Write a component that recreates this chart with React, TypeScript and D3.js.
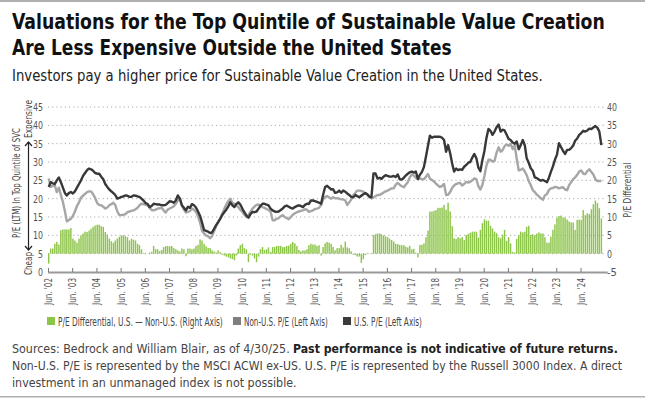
import { useEffect, useRef } from 'react'
import * as d3 from 'd3'

// monthly, Jun 2002 .. Apr 2025
const startMonth = new Date(2002, 5, 1)
const endMonth = new Date(2025, 4, 1)

const usPE = [
  23.2, 24.5, 24.2, 24, 25, 25.8, 24.5, 23, 21.5, 20.9, 21.5, 21.8,
  21.4, 22, 23, 24, 25, 26.2, 27, 27.8, 28.2, 28, 27.6, 27,
  26.8, 26.8, 26, 25.3, 24, 23.2, 22.5, 22, 21.5, 21, 20, 20.2,
  20.5, 20.6, 20.9, 20.8, 20.5, 20.5, 20.9, 20.8, 20.6, 20.5, 20, 19.5,
  18.8, 18.6, 17.7, 18, 18.6, 18.5, 18.4, 18.4, 18.2, 18.2, 18.3, 18.8,
  19.3, 19.2, 18.9, 19.5, 20.9, 20, 18.2, 17.5, 16.8, 17.8, 17.5, 18.5,
  18.2, 17.6, 16.5, 15.3, 13.5, 11.4, 11.2, 11, 10.6, 10.8, 11.8, 12.8,
  13.6, 14.5, 15.5, 16.3, 17, 17.9, 19, 18.2, 17.7, 18.5, 19, 18.4,
  17.3, 16.3, 15.4, 14.8, 15.8, 16.4, 16.3, 16.5, 17.3, 18, 18.6, 18.6,
  18.4, 18.2, 17.3, 16.8, 16.5, 16.4, 16.5, 16.9, 17.3, 17.9, 18.1, 17.8,
  17.5, 17.3, 17.7, 18, 18.2, 18, 17.7, 18.3, 18.6, 18.6, 19.5, 19.5,
  19.3, 19.1, 18.9, 18.6, 21, 23.2, 23.5, 23, 22.5, 22.6, 21.6, 21.7,
  22.2, 21.6, 22.2, 21.9, 21.4, 21, 20.5, 20.4, 21, 20.7, 20.4, 20.8,
  21.2, 21.5, 21.2, 20.5, 20.4, 26.9, 26.9, 25.5, 25.7, 25.4, 26, 26.4,
  26.2, 26, 26, 26.2, 25.9, 26.6, 25.3, 25.2, 25.7, 26.3, 26.8, 27.2,
  27.4, 27.1, 27.4, 25.4, 26.5, 27.3, 28.6, 31.5, 34.5, 37.2, 36.6, 36.9,
  36.9, 36.9, 36.9, 36.6, 36, 32.8, 34.6, 32.4, 29.5, 27.4, 28.2, 27.8,
  28, 27.9, 28.7, 29.2, 29.8, 30, 31.2, 32.2, 31, 28.5, 27.5, 30.5,
  33, 36.5, 39, 38.5, 37.4, 38.3, 39.5, 40.2, 38.3, 38.8, 38.6, 37.5,
  36.3, 36, 35.3, 35, 35.6, 33.5, 34.6, 36, 34.5, 31, 29.8, 28.3,
  27.6, 25.8, 25.6, 25.2, 24.9, 25.1, 24.8, 24.5, 25.8, 27.3, 28.8, 30.6,
  32, 35.1, 34.1, 33, 32.2, 33.3, 33.3, 33.8, 34.5, 35.8, 36.4, 37.4,
  37.9, 38.5, 38.3, 38.6, 39.1, 39, 39.4, 39.8, 39.3, 38.3, 34.6,
]

const nonUsPE = [
  25.5, 23.2, 23.5, 23.6, 21.8, 23, 21, 19.1, 16.5, 13.8, 14.2, 14.5,
  15.3, 16.5, 18, 19, 20.3, 20.8, 21.3, 21.8, 22, 22, 21.2, 20.2,
  18.8, 18.3, 18.2, 17.8, 17.3, 17.6, 18.2, 18.5, 18.9, 18.3, 16.5, 15.5,
  15.5, 15.6, 15.8, 16.3, 16.5, 16.7, 16.8, 17.1, 17.5, 18.2, 18.6, 18.5,
  18.3, 18.2, 17.5, 16.9, 16.8, 17, 17.3, 17.4, 17.5, 16.8, 16.2, 17,
  17.3, 17.6, 17.9, 18.6, 19.5, 20, 18.2, 17, 16.2, 16.4, 16.6, 17.3,
  17, 16.4, 15.2, 13.5, 11.2, 10.5, 10, 9.7, 9.2, 9.8, 11.2, 12.5,
  13.6, 14.6, 15.9, 17.2, 18.4, 19.3, 20, 18.9, 18.6, 18.3, 17.7, 17,
  16.4, 15.6, 15, 15.5, 16.4, 17.3, 17.8, 18.3, 18.4, 18.1, 17.7, 17.5,
  17.2, 16.9, 16.5, 14.1, 14.1, 14.5, 14.7, 15.2, 15.5, 15, 14.7, 14.4,
  15, 15.6, 16, 16.3, 16.5, 16.7, 16.8, 17.1, 17, 16.4, 16.6, 16.8,
  17.2, 17.3, 17.5, 18.2, 19.8, 20.5, 20.7, 20.3, 20, 20.4, 20.1, 20.1,
  20, 19.8, 19.8, 19.5, 18.3, 19, 19.8, 21, 21.6, 22.2, 22.2, 22.1,
  21.9, 21.5, 21, 20.5, 20.1, 20.3, 20.7, 21, 21, 21.3, 21.7, 22,
  22.2, 22.5, 22.8, 22.8, 23.8, 24.3, 23.8, 23.4, 23.1, 23.8, 24.5, 25.8,
  26.6, 26.3, 25.7, 25.3, 25.5, 25.3, 25.3, 26, 26.7, 25.5, 25.1, 24.7,
  24.1, 23.6, 23.2, 23.5, 24, 21, 21.1, 21.8, 23, 23.6, 24, 24.2,
  24.3, 23.6, 24, 24.6, 24.4, 24.6, 25, 25.5, 25.3, 23.4, 22.5, 23.7,
  26.2, 29, 30.6, 30.6, 30.1, 30.3, 32.5, 34, 32.8, 33.2, 34.3, 34.8,
  34.4, 35, 33.5, 34.5, 31, 27.7, 27.9, 28.2, 27.4, 26.4, 24.8, 23.7,
  22.3, 21.8, 21.1, 20.6, 20.1, 19.7, 20.9, 21.3, 22.4, 22.8, 22.9, 23.2,
  23.1, 22.8, 23, 23.1, 22.5, 22.3, 23.7, 24.5, 25.3, 25.8, 26.5, 27.4,
  27.7, 26.8, 26.7, 27.5, 28, 27.3, 26.6, 25.3, 24.8, 24.8, 24.9,
]

const peDiff = [
  -2.7, 1.4, 1.4, 2.7, 3.2, 2.5, 6.4, 6.6, 6.6, 6.6, 6.6, 7,
  4.1, 3.6, 3, 4.1, 5, 5.5, 6, 5.9, 6.3, 6.8, 7.3, 7.7,
  7.9, 7.9, 7.5, 7.3, 5.9, 5.2, 4.1, 3.4, 3, 3.6, 4.1, 4.6,
  5, 5, 4.8, 4.5, 3.6, 4.1, 3.8, 3.6, 2.7, 2.3, 1.2, 0.2,
  0.2, 0, 0.3, 0.5, 2.1, 1.2, 1.2, 0.7, 1, 1.8, 2.1, 2.1,
  2, 2.1, 1.5, 1.2, 0.9, 0.6, 1.4, 1.2, -0.7, 1.4, 1.4, 1.2,
  1.4, 2.1, 2.4, 3.9, 3.6, 2.7, 2, 1.6, 1.5, 0.9, 0.6, 0.3,
  0.9, 0.4, -0.3, -0.5, -0.8, -1, -1.3, -1.5, -1.8, -0.5, 1.4, 2.3,
  2.7, 1.5, 1.2, -2.3, -0.3, -0.5, -1.3, -2.3, -0.8, 1.2, 1.8, 1,
  1.2, 1.7, 0.5, 1.8, 1.8, 2.1, 2.1, 2.1, 1.8, 1.8, 2.1, 2.2,
  2.7, 3.2, 2.8, 2.1, 1, 0.6, 0.9, 0.9, 1.2, 2.3, 2.7, 2.5,
  2.5, 2.1, 2.3, -0.5, 1.8, 2.8, 3.2, 3, 2.7, 1.8, 0.9, 1.5,
  1.5, 2.4, 1.7, 3.3, 1.7, 1.5, 0.6, -0.3, -0.4, -0.8, -0.8, -2.5,
  -1.5, -0.4, 0.1, 0.1, 0.1, 5.1, 5.3, 5.5, 5.5, 5.3, 5, 4.7,
  4.5, 4.1, 3.7, 3.3, 2.7, 2.6, 2.4, 2.3, 2.3, 1.9, 1.7, 2.1,
  1.2, 1.3, 0.3, -1, 2.4, 2.4, 2.8, 4.5, 6.3, 11.5, 11.5, 11.7,
  11.9, 12.5, 12.5, 12.6, 13.3, 12, 13.9, 11.5, 7.5, 4.2, 4, 4.5,
  4.2, 4.5, 3.7, 5.1, 5.4, 5.7, 6, 6, 6, 4.4, 6.5, 8.3,
  9.4, 9, 9, 7.6, 6.9, 6, 5.6, 4.5, 4.2, 5.2, 6.5, 3.5,
  4.5, 2.8, 0.5, 0.3, 4, 5, 6, 5.8, 6, 7.3, 7.6, 5.1,
  5.3, 5, 5.5, 5.8, 5.5, 5.5, 4.5, 3, 3, 4.6, 6.5, 8,
  9.8, 10.3, 10.4, 9.9, 9.8, 9.3, 8.8, 8.5, 8.5, 6.5, 9.2, 9.3,
  9.2, 11.9, 10.5, 11, 10.8, 12.1, 13.5, 14.5, 13.8, 12.4, 9.6,
]

const leftTicks = [0, 5, 10, 15, 20, 25, 30, 35, 40, 45]
const rightTicks = [-5, 0, 5, 10, 15, 20, 25, 30, 35, 40]
const tickYears = d3.range(2002, 2025)

const titleLines = [
  'Valuations for the Top Quintile of Sustainable Value Creation',
  'Are Less Expensive Outside the United States',
]
const subtitle = 'Investors pay a higher price for Sustainable Value Creation in the United States.'
const legendItems = [
  { label: 'P/E Differential, U.S. \u2014 Non-U.S. (Right Axis)', color: '#8dc54a' },
  { label: 'Non-U.S. P/E (Left Axis)', color: '#7f7f7f' },
  { label: 'U.S. P/E (Left Axis)', color: '#3a3a3a' },
]

const FONT = "'DejaVu Sans', sans-serif"

// the reference face is narrower than anything installed, so each text is
// squeezed horizontally to the width it takes in the reference
function fit(
  sel: d3.Selection<SVGTextElement, any, any, any>,
  w: number, tx: number, ty: number, rot = 0,
) {
  const len = sel.node()!.getComputedTextLength()
  const s = len > 0 ? w / len : 1
  sel.attr('x', 0).attr('y', 0)
    .attr('transform', `translate(${tx},${ty}) rotate(${rot}) scale(${s},1)`)
  return sel
}

export default function App() {
  const svgRef = useRef<SVGSVGElement>(null)

  useEffect(() => {
    if (!svgRef.current) return
    const svg = d3.select(svgRef.current)
    svg.selectAll('*').remove()

    const W = 645
    const H = 398
    const margin = { top: 107, left: 48, bottom: 272 }
    const months = d3.timeMonth.range(startMonth, d3.timeMonth.offset(endMonth, 1))
    const step = 2.017

    const x = d3.scaleTime()
      .domain([startMonth, d3.timeMonth.offset(endMonth, 1)])
      .range([margin.left, margin.left + months.length * step])
    const yL = d3.scaleLinear().domain([0, 45]).range([margin.bottom, margin.top])
    const yR = d3.scaleLinear().domain([-5, 40]).range([margin.bottom, margin.top])
    const x0 = margin.left
    const x1 = margin.left + months.length * step + 1

    svg.style('font-family', FONT).style('font-stretch', 'condensed')

    // frame lines
    svg.append('rect').attr('x', 0).attr('y', 0).attr('width', W).attr('height', 2).attr('fill', '#b0b0b0')
    svg.append('rect').attr('x', 0).attr('y', H - 2).attr('width', W).attr('height', 1.5).attr('fill', '#b0b0b0')

    // title
    const titleW = [593, 440]
    titleLines.forEach((t, i) => {
      fit(svg.append('text')
        .style('font-size', '21px').style('font-weight', 'bold').style('fill', '#111')
        .text(t), titleW[i], 12, 29 + i * 26)
    })
    fit(svg.append('text')
      .style('font-size', '15px').style('fill', '#222')
      .text(subtitle), 531, 12, 81)

    // gridlines
    const grid = svg.append('g')
    leftTicks.filter(d => d > 0).forEach(d => {
      grid.append('line')
        .attr('x1', x0).attr('x2', x1)
        .attr('y1', yL(d)).attr('y2', yL(d))
        .attr('stroke', '#aaa').attr('stroke-width', 1)
        .attr('stroke-dasharray', '1.2,3')
    })

    // left labels
    leftTicks.forEach(d => {
      fit(svg.append('text')
        .attr('dy', '0.35em').attr('text-anchor', 'end')
        .style('font-size', '11px').style('fill', '#555')
        .text(d), String(d).length * 5, 43, yL(d))
    })

    // right labels
    rightTicks.forEach(d => {
      fit(svg.append('text')
        .attr('dy', '0.35em')
        .style('font-size', '11px').style('fill', '#555')
        .text(d), String(d).length * 5, 607, yR(d))
    })

    // bars
    const bw = step * 0.72
    svg.append('g').selectAll('rect').data(peDiff).enter().append('rect')
      .attr('x', (_, i) => x(months[i]))
      .attr('width', bw)
      .attr('y', d => Math.min(yR(d), yR(0)))
      .attr('height', d => Math.abs(yR(d) - yR(0)))
      .attr('fill', '#8dc54a')

    // lines
    const lineL = d3.line<number>()
      .x((_, i) => x(months[i]) + bw / 2)
      .y(d => yL(d))
    svg.append('path').datum(nonUsPE)
      .attr('d', lineL).attr('fill', 'none')
      .attr('stroke', '#a6a6a6').attr('stroke-width', 2.4).attr('stroke-linejoin', 'round')
    svg.append('path').datum(usPE)
      .attr('d', lineL).attr('fill', 'none')
      .attr('stroke', '#383838').attr('stroke-width', 2.4).attr('stroke-linejoin', 'round')

    // x axis
    svg.append('line')
      .attr('x1', x0).attr('x2', x1 + 2)
      .attr('y1', margin.bottom + 0.5).attr('y2', margin.bottom + 0.5)
      .attr('stroke', '#999').attr('stroke-width', 2)
    const tickDates = tickYears.map(yr => new Date(yr, 5, 1))
    const xa = svg.append('g')
    tickDates.forEach(d => {
      xa.append('line')
        .attr('x1', x(d) + 0.5).attr('x2', x(d) + 0.5)
        .attr('y1', margin.bottom - 4).attr('y2', margin.bottom)
        .attr('stroke', '#777').attr('stroke-width', 1)
      fit(xa.append('text')
        .attr('text-anchor', 'end')
        .style('font-size', '11px').style('fill', '#555')
        .text(`Jun. '${d3.timeFormat('%y')(d)}`), 27, x(d) + 4, 278, -90)
    })

    // axis titles
    fit(svg.append('text')
      .attr('text-anchor', 'middle')
      .style('font-size', '11px').style('fill', '#444')
      .text('P/E (LTM) In Top Quintile of SVC'), 110, 20, 183, -90)
    fit(svg.append('text')
      .attr('text-anchor', 'end')
      .style('font-size', '11px').style('fill', '#444')
      .text('Expensive'), 38, 32, 100, -90)
    fit(svg.append('text')
      .attr('text-anchor', 'start')
      .style('font-size', '11px').style('fill', '#444')
      .text('Cheap'), 23, 32, 275, -90)
    const arrow = svg.append('g').attr('stroke', '#222').attr('stroke-width', 1.2).attr('fill', 'none')
    arrow.append('line').attr('x1', 28.5).attr('x2', 28.5).attr('y1', 142).attr('y2', 250)
    arrow.append('path').attr('d', 'M25,146 L28.5,142 L32,146')
    arrow.append('path').attr('d', 'M25,246 L28.5,250 L32,246')
    fit(svg.append('text')
      .attr('text-anchor', 'middle')
      .style('font-size', '11px').style('fill', '#444')
      .text('P/E Differential'), 55, 631, 190, -90)

    // legend
    const legendX = [47, 233, 343]
    const legendW = [165, 84, 68]
    legendItems.forEach((it, i) => {
      svg.append('rect')
        .attr('x', legendX[i]).attr('y', 317).attr('width', 8).attr('height', 8)
        .attr('fill', it.color)
      fit(svg.append('text')
        .style('font-size', '11.5px').style('fill', '#444')
        .text(it.label), legendW[i], legendX[i] + 11, 325.5)
    })

    // footnote
    const foot = svg.append('g').style('font-size', '12.5px').style('fill', '#444')
    fit(foot.append('text')
      .text('Sources: Bedrock and William Blair, as of 4/30/25.'), 278, 12, 353)
    fit(foot.append('text')
      .style('font-weight', 'bold').style('fill', '#222')
      .text('Past performance is not indicative of future returns.'), 325, 293, 353)
    fit(foot.append('text')
      .text('Non-U.S. P/E is represented by the MSCI ACWI ex-US. U.S. P/E is represented by the Russell 3000 Index. A direct'), 611, 12, 370)
    fit(foot.append('text')
      .text('investment in an unmanaged index is not possible.'), 285, 12, 387)
  }, [])

  return (
    <svg
      ref={svgRef}
      width={645}
      height={398}
      style={{ position: 'absolute', left: 0, top: 0, background: '#fff' }}
    />
  )
}
